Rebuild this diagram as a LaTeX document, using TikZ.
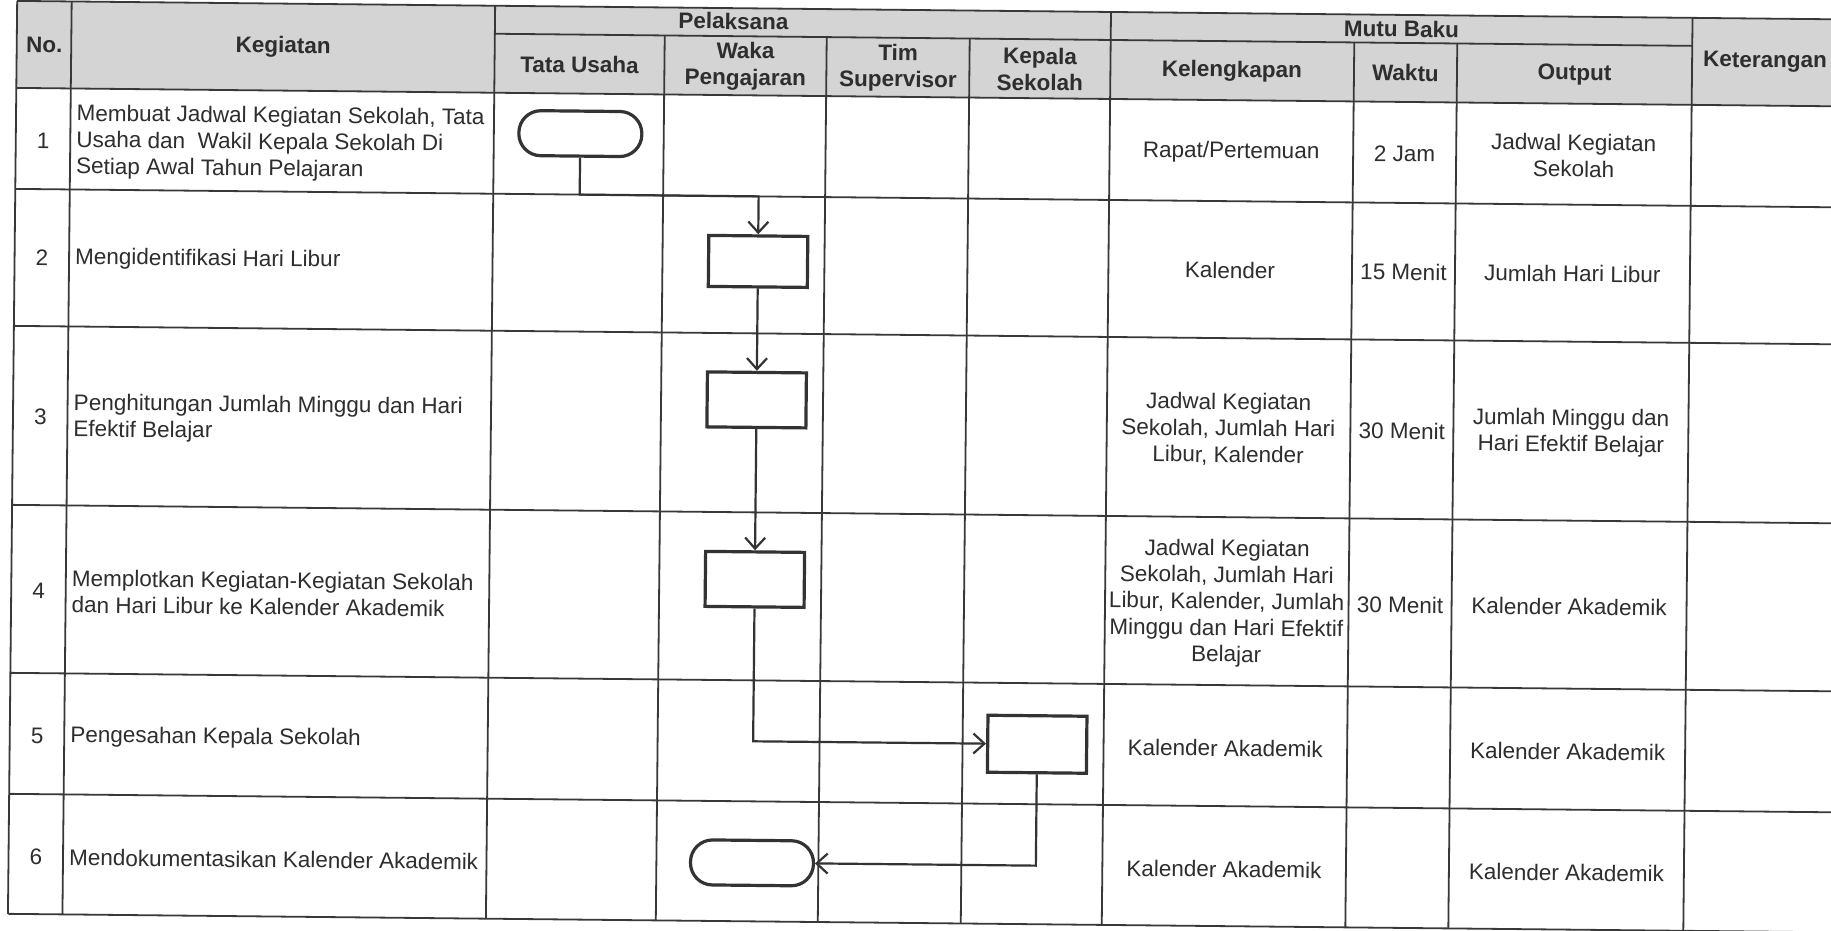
\documentclass[tikz,border=0pt]{standalone}
\usepackage{fontspec}
\setmainfont{Liberation Sans}
\usepackage{tikz}
\usetikzlibrary{arrows.meta}
\newcommand{\Isi}{\fontsize{22.5}{26.5}\selectfont}

\begin{document}
\begin{tikzpicture}[
    x=1pt, y=-1pt,
    garis/.style={draw=black!78, line width=1.8pt},
    judul/.style={font=\Isi\bfseries, text=black!82, align=center, inner sep=0pt},
    isi/.style={font=\Isi, text=black!82, align=center, inner sep=0pt},
    kiri/.style={font=\Isi, text=black!82, align=left, anchor=west, inner sep=0pt},
    proses/.style={draw=black!80, line width=3.2pt, minimum width=99pt, minimum height=55pt, inner sep=0pt},
    terminal/.style={draw=black!80, line width=3.2pt, rounded corners=22pt, minimum width=123pt, minimum height=45pt, inner sep=0pt},
    alur/.style={draw=black!80, line width=2.2pt, -{Straight Barb[length=11pt, width=20pt]}}
]
\useasboundingbox (0,0) rectangle (1831,931);
\fill[white] (0,0) rectangle (1831,931);

% hasil pindaian sedikit miring
\begin{scope}[rotate around={-0.58:(915,465)}, transform shape]
\fill[black!17] (12.5,10) rectangle (1850,97);

\draw[garis] (12.5,10) -- (1850,10);
\draw[garis] (490.5,38) -- (1688,38);
\draw[garis] (12.5,97) -- (1850,97);
\draw[garis] (12.5,198) -- (1850,198);
\draw[garis] (12.5,335) -- (1850,335);
\draw[garis] (12.5,514) -- (1850,514);
\draw[garis] (12.5,682) -- (1850,682);
\draw[garis] (12.5,803) -- (1850,803);
\draw[garis] (12.5,923) -- (1850,923);

\draw[garis] (12.5,10) -- (12.5,923);
\draw[garis] (67,10) -- (67,923);
\draw[garis] (490.5,10) -- (490.5,923);
\draw[garis] (660.4,38) -- (660.4,923);
\draw[garis] (822.4,38) -- (822.4,923);
\draw[garis] (965.4,38) -- (965.4,923);
\draw[garis] (1106.4,10) -- (1106.4,923);
\draw[garis] (1350,38) -- (1350,923);
\draw[garis] (1453,38) -- (1453,923);
\draw[garis] (1688,10) -- (1688,923);

\node[judul] (hNo) at (40,53.5) {No.};
\node[judul] (hKeg) at (279,53.5) {Kegiatan};
\node[judul] (hPel) at (729,23) {Pelaksana};
\node[judul] (hMutu) at (1397,24) {Mutu Baku};
\node[judul] (hKet) at (1761,53.5) {Keterangan};
\node[judul] (hTU) at (575.5,68) {Tata Usaha};
\node[judul] (hWaka) at (741.4,68) {Waka\\Pengajaran};
\node[judul] (hTim) at (894,68) {Tim\\Supervisor};
\node[judul] (hKS) at (1036,68) {Kepala\\Sekolah};
\node[judul] (hKel) at (1228,68) {Kelengkapan};
\node[judul] (hWkt) at (1401.5,68) {Waktu};
\node[judul] (hOut) at (1570.5,68) {Output};

\node[isi] (n1) at (40,150) {1};
\node[isi] (n2) at (40,267) {2};
\node[isi] (n3) at (40,426) {3};
\node[isi] (n4) at (40,600) {4};
\node[isi] (n5) at (40,745) {5};
\node[isi] (n6) at (40,866) {6};

\node[kiri] (k1) at (73,150) {Membuat Jadwal Kegiatan Sekolah, Tata\\Usaha dan~ Wakil Kepala Sekolah Di\\Setiap Awal Tahun Pelajaran};
\node[kiri] (k2) at (73,267) {Mengidentifikasi Hari Libur};
\node[kiri] (k3) at (73,426) {Penghitungan Jumlah Minggu dan Hari\\Efektif Belajar};
\node[kiri] (k4) at (73,600) {Memplotkan Kegiatan-Kegiatan Sekolah\\dan Hari Libur ke Kalender Akademik};
\node[kiri] (k5) at (73,745) {Pengesahan Kepala Sekolah};
\node[kiri] (k6) at (73,866) {Mendokumentasikan Kalender Akademik};

\node[isi] (kel1) at (1228,149) {Rapat/Pertemuan};
\node[isi] (kel2) at (1228,267) {Kalender};
\node[isi] (kel3) at (1228,426) {Jadwal Kegiatan\\Sekolah, Jumlah Hari\\Libur, Kalender};
\node[isi] (kel4) at (1228,600) {Jadwal Kegiatan\\Sekolah, Jumlah Hari\\Libur, Kalender, Jumlah\\Minggu dan Hari Efektif\\Belajar};
\node[isi] (kel5) at (1228,745) {Kalender Akademik};
\node[isi] (kel6) at (1228,866) {Kalender Akademik};

\node[isi] (w1) at (1401.5,149) {2 Jam};
\node[isi] (w2) at (1401.5,267) {15 Menit};
\node[isi] (w3) at (1401.5,426) {30 Menit};
\node[isi] (w4) at (1401.5,600) {30 Menit};

\node[isi] (o1) at (1570.5,149) {Jadwal Kegiatan\\Sekolah};
\node[isi] (o2) at (1570.5,267) {Jumlah Hari Libur};
\node[isi] (o3) at (1570.5,426) {Jumlah Minggu dan\\Hari Efektif Belajar};
\node[isi] (o4) at (1570.5,600) {Kalender Akademik};
\node[isi] (o5) at (1570.5,745) {Kalender Akademik};
\node[isi] (o6) at (1570.5,866) {Kalender Akademik};

\node[terminal] (t1) at (577,137) {};
\node[proses, minimum height=51pt] (b2) at (756,263) {};
\node[proses] (b3) at (756,401.5) {};
\node[proses] (b4) at (756,581) {};
\node[proses, minimum height=57pt] (b5) at (1040,743) {};
\node[terminal] (t6) at (756,864.5) {};

\coordinate (j1) at (577,198);
\draw[alur] (t1) -- (j1) -| (b2);
\draw[alur] (b2) -- (b3);
\draw[alur] (b3) -- (b4);
\draw[alur] (b4) |- (b5);
\draw[alur] (b5) |- (t6);
\end{scope}
\end{tikzpicture}
\end{document}
